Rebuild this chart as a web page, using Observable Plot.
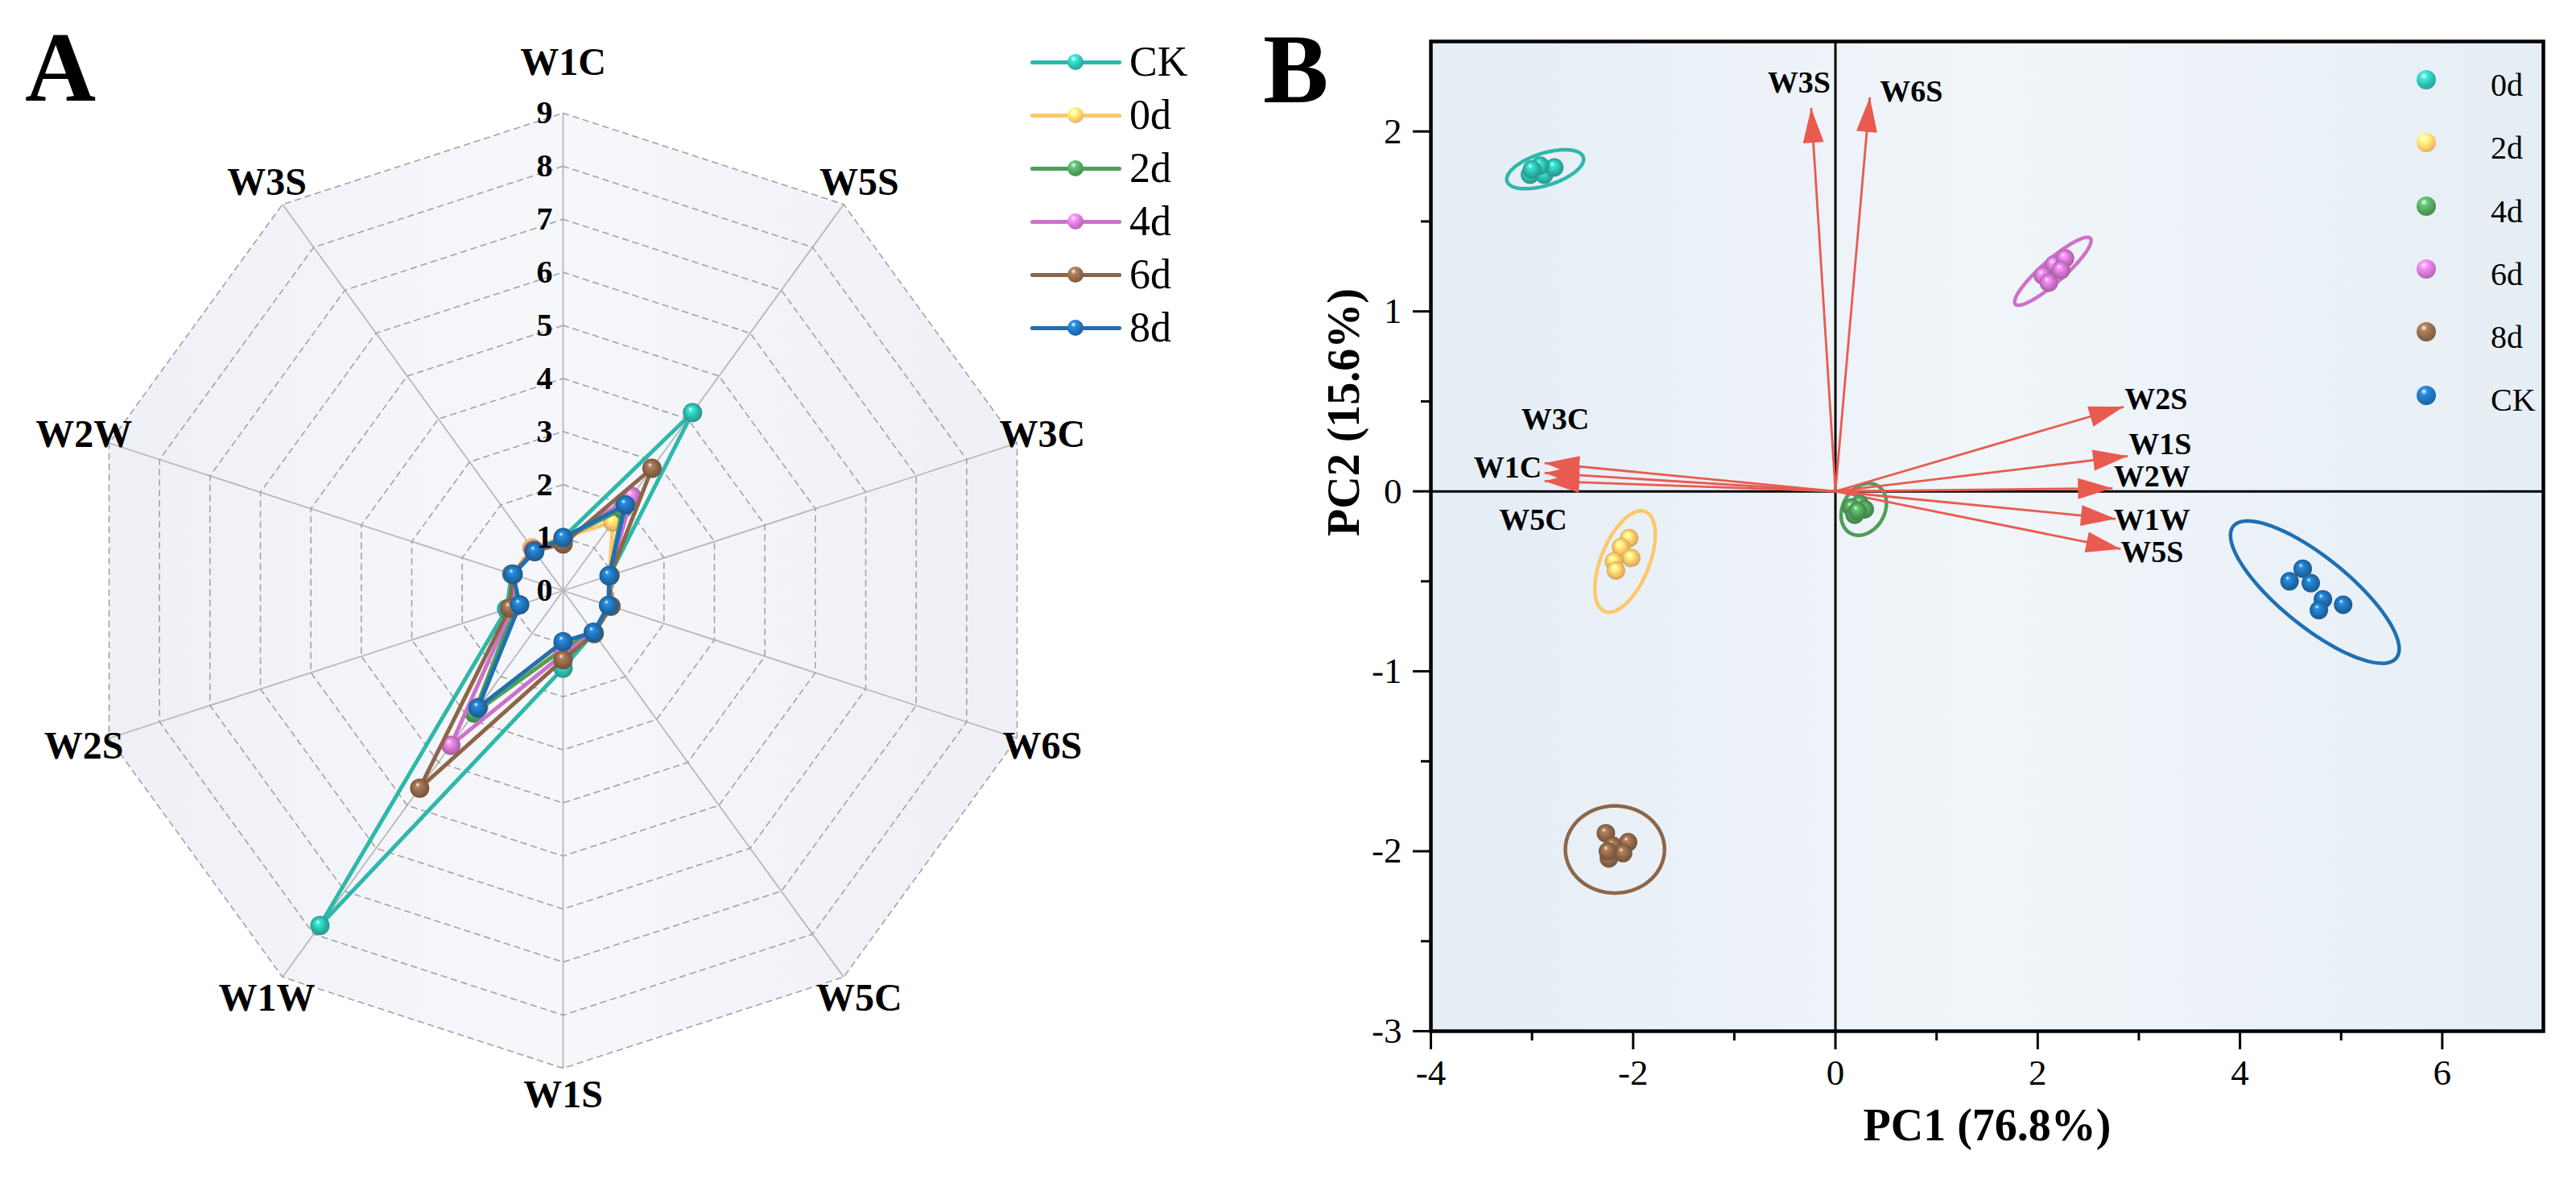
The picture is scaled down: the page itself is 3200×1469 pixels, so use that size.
<!DOCTYPE html>
<html>
<head>
<meta charset="utf-8">
<script src="https://cdn.jsdelivr.net/npm/d3@7"></script>
<script src="https://cdn.jsdelivr.net/npm/@observablehq/plot@0.6"></script>
<style>
  body { margin: 0; background: #fff; font-family: "Liberation Serif", "Times New Roman", serif; }
  #wrap { position: relative; width: 3200px; height: 1469px; overflow: hidden; background: #fff; }
  #panelA { position: absolute; left: 0; top: 0; }
  #panelB { position: absolute; left: 1580px; top: 0; }
  .letter { position: absolute; font-weight: bold; font-size: 122px; line-height: 1; color: #000; }
  .leg { position: absolute; line-height: 1; color: #000; white-space: nowrap; }
  .ball { position: absolute; border-radius: 50%; }
  .lline { position: absolute; height: 5px; border-radius: 2px; }
</style>
</head>
<body>
<div id="wrap">
  <div id="panelA"></div>
  <div id="panelB"></div>
</div>
<script>
// ---------------- DATA ----------------
// Panel A: radar (E-nose sensor responses)
const radarAxes = ["W1C", "W5S", "W3C", "W6S", "W5C", "W1S", "W1W", "W2S", "W2W", "W3S"];
const radarSeries = ["CK", "0d", "2d", "4d", "6d", "8d"];
const radarCK = [1.00, 4.15, 0.92, 0.93, 0.98, 1.46, 7.80, 1.12, 1.02, 0.96];
const radar0d = [1.00, 1.60, 0.92, 0.92, 0.97, 1.00, 2.70, 0.95, 1.00, 1.00];
const radar2d = [0.98, 1.90, 0.92, 0.92, 0.97, 1.10, 2.85, 0.95, 1.00, 0.95];
const radar4d = [0.95, 2.20, 0.92, 0.93, 0.98, 1.20, 3.60, 1.00, 1.00, 0.95];
const radar6d = [0.88, 2.85, 0.93, 0.95, 1.00, 1.30, 4.60, 1.06, 1.00, 0.93];
const radar8d = [1.00, 2.00, 0.91, 0.90, 0.97, 0.96, 2.73, 0.86, 0.99, 0.91];
const radarTicks = [0, 1, 2, 3, 4, 5, 6, 7, 8, 9];

// Panel B: PCA biplot
const pcaGroups = ["0d", "2d", "4d", "6d", "8d", "CK"];
const scores0d = [[-3.02, 1.76], [-2.88, 1.76], [-2.78, 1.80], [-2.92, 1.81], [-3.00, 1.79]];
const scores2d = [[-2.04, -0.26], [-2.12, -0.31], [-2.02, -0.37], [-2.19, -0.39], [-2.17, -0.44]];
const scores4d = [[0.24, -0.07], [0.16, -0.09], [0.29, -0.10], [0.19, -0.13], [0.22, -0.11]];
const scores6d = [[2.16, 1.26], [2.27, 1.295], [2.05, 1.20], [2.11, 1.16], [2.23, 1.23]];
const scores8d = [[-2.27, -1.90], [-2.05, -1.95], [-2.20, -1.97], [-2.24, -2.04], [-2.10, -2.01], [-2.25, -2.00]];
const scoresCK = [[4.49, -0.50], [4.62, -0.43], [4.70, -0.51], [4.82, -0.60], [4.78, -0.66], [5.02, -0.63]];
// confidence ellipses: centre and two half-axis vectors (data units)
const ellipseCenter = [[-2.87, 1.79], [-2.08, -0.39], [0.28, -0.10], [2.15, 1.223], [-2.18, -1.99], [4.74, -0.56]];
const ellipseAxisU  = [[0.377, 0.067], [0.202, 0.277], [0.135, 0.132], [0.371, 0.183], [0.49, 0], [0.806, -0.366]];
const ellipseAxisV  = [[0.048, -0.085], [0.220, -0.051], [0.179, -0.058], [0.073, -0.047], [0, 0.242], [0.214, 0.150]];
// loadings
const loadNames = ["W3S", "W6S", "W3C", "W1C", "W5C", "W2S", "W1S", "W2W", "W1W", "W5S"];
const loadPC1 = [-0.24, 0.34, -2.875, -2.875, -2.875, 2.85, 2.89, 2.74, 2.77, 2.82];
const loadPC2 = [2.13, 2.19, 0.157, 0.102, 0.057, 0.47, 0.196, 0.017, -0.153, -0.32];
const loadLabelX = [-0.36, 0.75, -2.77, -3.24, -2.99, 3.17, 3.21, 3.13, 3.13, 3.13];
const loadLabelY = [2.27, 2.22, 0.40, 0.13, -0.16, 0.51, 0.26, 0.08, -0.16, -0.34];
const xTicksMajor = [-4, -2, 0, 2, 4, 6];
const xTicksMinor = [-3, -1, 1, 3, 5];
const yTicksMajor = [-3, -2, -1, 0, 1, 2];
const yTicksMinor = [-2.5, -1.5, -0.5, 0.5, 1.5];
const pc1Title = "PC1 (76.8%)";
const pc2Title = "PC2 (15.6%)";

// ---------------- STYLES ----------------
const radarColors = ["#2db8aa", "#fcc86a", "#4f9d5a", "#cc73c9", "#8d6547", "#1f6fb2"];
const pcaColors   = ["#2db8aa", "#fcc86a", "#4f9d5a", "#cc73c9", "#8d6547", "#1f6fb2"];
const arrowColor = "#e95a4f";
const serif = "'Liberation Serif', 'Times New Roman', serif";

// ---------------- GRADIENT DEFS ----------------
const defsSvg = d3.select("body").append("svg")
  .attr("width", 0).attr("height", 0)
  .style("position", "absolute").style("left", "0").style("top", "0");
const defs = defsSvg.append("defs");
function addBall(id, c) {
  const base = d3.color(c);
  const g = defs.append("radialGradient").attr("id", id)
    .attr("cx", "0.5").attr("cy", "0.5").attr("r", "0.55").attr("fx", "0.38").attr("fy", "0.3");
  g.append("stop").attr("offset", "0").attr("stop-color", "#ffffff");
  g.append("stop").attr("offset", "0.2").attr("stop-color", base.brighter(0.7).formatHex());
  g.append("stop").attr("offset", "0.6").attr("stop-color", c);
  g.append("stop").attr("offset", "1").attr("stop-color", base.darker(0.7).formatHex());
}
radarColors.forEach((c, i) => addBall("ballA" + i, c));
pcaColors.forEach((c, i) => addBall("ballB" + i, c));
{
  const g = defs.append("linearGradient").attr("id", "radarBg").attr("x1", "0").attr("x2", "1").attr("y1", "0").attr("y2", "0");
  [["0", "#eef0f6"], ["0.3", "#f4f5fa"], ["0.5", "#f6f7fb"], ["0.7", "#f3f4f9"], ["1", "#eef0f6"]]
    .forEach(([o, c]) => g.append("stop").attr("offset", o).attr("stop-color", c));
  const h = defs.append("linearGradient").attr("id", "bgB").attr("x1", "0").attr("x2", "1").attr("y1", "0").attr("y2", "0");
  [["0", "#e5edf5"], ["0.5", "#f0f5f9"], ["1", "#e6eef5"]]
    .forEach(([o, c]) => h.append("stop").attr("offset", o).attr("stop-color", c));
}

// ---------------- PANEL A (radar) ----------------
const radarValues = [radarCK, radar0d, radar2d, radar4d, radar6d, radar8d];
const rMax = d3.max(radarTicks);
const angleOf = i => i * 2 * Math.PI / radarAxes.length;
const px = (v, i) => v * Math.sin(angleOf(i));
const py = (v, i) => v * Math.cos(angleOf(i));

const outer = radarAxes.map((a, i) => ({x: px(rMax, i), y: py(rMax, i)}));
const rings = radarTicks.filter(k => k > 0).flatMap(k => radarAxes.map((a, i) => ({k, x: px(k, i), y: py(k, i)})));

const marksA = [
  Plot.line(outer, {x: "x", y: "y", fill: "url(#radarBg)", stroke: null, curve: "linear-closed"}),
  Plot.link(radarAxes, {x1: 0, y1: 0, x2: (d, i) => px(rMax, i), y2: (d, i) => py(rMax, i), stroke: "#b8b8b8", strokeWidth: 1.8}),
  Plot.line(rings, {x: "x", y: "y", z: "k", stroke: "#a3a3a3", strokeWidth: 1.6, strokeDasharray: "7 6", curve: "linear-closed"})
];
radarSeries.forEach((s, si) => {
  const rows = radarAxes.map((a, i) => ({axis: a, x: px(radarValues[si][i], i), y: py(radarValues[si][i], i)}));
  marksA.push(Plot.line(rows, {x: "x", y: "y", stroke: radarColors[si], strokeWidth: 5, curve: "linear-closed"}));
  marksA.push(Plot.dot(rows, {x: "x", y: "y", r: 12, fill: `url(#ballA${si})`, stroke: null}));
});
marksA.push(Plot.text(radarTicks, {x: 0, y: d => d, text: d => String(d), dx: -13, textAnchor: "end",
  fontSize: 40, fontWeight: "bold", fontFamily: serif, fill: "#000"}));
marksA.push(Plot.text(radarAxes, {
  x: (d, i) => px(i === 0 ? rMax + 0.95 : rMax + 0.5, i),
  y: (d, i) => py(i === 0 ? rMax + 0.95 : rMax + 0.5, i),
  text: d => d, fontSize: 48, fontWeight: "bold", fontFamily: serif, fill: "#000"}));

const plotA = Plot.plot({
  width: 1580, height: 1469,
  x: {domain: [-rMax, rMax], range: [106, 1292], axis: null},
  y: {domain: [-rMax, rMax], range: [1326, 140], axis: null},
  style: {background: "none", fontFamily: serif, overflow: "visible"},
  marks: marksA
});
document.getElementById("panelA").appendChild(plotA);

// ---------------- PANEL B (PCA biplot) ----------------
const W_B = 1620, H_B = 1469, mL = 197, mR = 41, mT = 51, mB = 189;
const sx = Plot.scale({x: {domain: [-4, 7], range: [mL, W_B - mR]}});
const sy = Plot.scale({y: {domain: [-3, 2.5], range: [H_B - mB, mT]}});
const kx = sx.apply(1) - sx.apply(0);
const ky = sy.apply(0) - sy.apply(1);

const scoresAll = [scores0d, scores2d, scores4d, scores6d, scores8d, scoresCK];
const marksB = [
  Plot.frame({fill: "url(#bgB)", stroke: null}),
  Plot.ruleX([0], {stroke: "#000", strokeWidth: 3}),
  Plot.ruleY([0], {stroke: "#000", strokeWidth: 3})
];
// ellipses
pcaGroups.forEach((g, gi) => {
  const [cx, cy] = ellipseCenter[gi], [ux, uy] = ellipseAxisU[gi], [vx, vy] = ellipseAxisV[gi];
  const pts = d3.range(0, 121).map(j => {
    const t = j / 120 * 2 * Math.PI;
    return {x: cx + Math.cos(t) * ux + Math.sin(t) * vx, y: cy + Math.cos(t) * uy + Math.sin(t) * vy};
  });
  marksB.push(Plot.line(pts, {x: "x", y: "y", stroke: pcaColors[gi], strokeWidth: 4.5}));
});
// loading arrows
const loadings = loadNames.map((n, i) => ({name: n, pc1: loadPC1[i], pc2: loadPC2[i], lx: loadLabelX[i], ly: loadLabelY[i]}));
marksB.push(Plot.link(loadings, {x1: 0, y1: 0, x2: "pc1", y2: "pc2", stroke: arrowColor, strokeWidth: 2.8}));
function headSymbol(theta) {
  return {
    draw(ctx) {
      const L = 43, W = 13;
      const p = [[0, 0], [-W, L], [W, L]].map(([x, y]) => [x * Math.cos(theta) - y * Math.sin(theta), x * Math.sin(theta) + y * Math.cos(theta)]);
      ctx.moveTo(p[0][0], p[0][1]);
      ctx.lineTo(p[1][0], p[1][1]);
      ctx.lineTo(p[2][0], p[2][1]);
      ctx.closePath();
    }
  };
}
loadings.forEach(d => {
  const th = Math.atan2(d.pc1 * kx, d.pc2 * ky);
  marksB.push(Plot.dot([d], {x: "pc1", y: "pc2", r: 10, symbol: headSymbol(th), fill: arrowColor, stroke: null}));
});
marksB.push(Plot.text(loadings, {x: "lx", y: "ly", text: "name", fontSize: 38, fontWeight: "bold", fontFamily: serif, fill: "#000"}));
// score points
pcaGroups.forEach((g, gi) => {
  marksB.push(Plot.dot(scoresAll[gi], {x: d => d[0], y: d => d[1], r: 11.5, fill: `url(#ballB${gi})`, stroke: null}));
});
marksB.push(
  Plot.frame({stroke: "#000", strokeWidth: 4.5}),
  Plot.axisX({ticks: xTicksMajor, tickSize: 23, tickPadding: 12, tickFormat: d => String(d), fontSize: 45, fontFamily: serif, strokeWidth: 3, stroke: "#000", fill: "#000", label: null}),
  Plot.axisX({ticks: xTicksMinor, tickSize: 12, tickFormat: () => "", strokeWidth: 3, stroke: "#000", label: null}),
  Plot.axisY({ticks: yTicksMajor, tickSize: 22, tickPadding: 14, tickFormat: d => String(d), fontSize: 45, fontFamily: serif, strokeWidth: 3, stroke: "#000", fill: "#000", label: null}),
  Plot.axisY({ticks: yTicksMinor, tickSize: 12, tickFormat: () => "", strokeWidth: 3, stroke: "#000", label: null}),
  Plot.text([pc1Title], {text: d => d, frameAnchor: "bottom", dy: 135, fontSize: 56, fontWeight: "bold", fontFamily: serif, fill: "#000"}),
  Plot.text([pc2Title], {text: d => d, frameAnchor: "left", dx: -107, rotate: -90, fontSize: 56, fontWeight: "bold", fontFamily: serif, fill: "#000"})
);

const plotB = Plot.plot({
  width: W_B, height: H_B,
  marginLeft: mL, marginRight: mR, marginTop: mT, marginBottom: mB,
  x: {domain: [-4, 7]},
  y: {domain: [-3, 2.5]},
  style: {background: "none", fontFamily: serif, overflow: "visible"},
  marks: marksB
});
document.getElementById("panelB").appendChild(plotB);

// ---------------- LETTERS & LEGENDS ----------------
const wrap = document.getElementById("wrap");
function addDiv(cls, css, text) {
  const el = document.createElement("div");
  el.className = cls;
  Object.assign(el.style, css);
  if (text != null) el.textContent = text;
  wrap.appendChild(el);
  return el;
}
addDiv("letter", {left: "31px", top: "23px"}, "A");
addDiv("letter", {left: "1569px", top: "25px"}, "B");

function ballCss(c) {
  const b = d3.color(c);
  return `radial-gradient(circle at 38% 30%, #ffffff 0%, ${b.brighter(0.7).formatHex()} 18%, ${c} 55%, ${b.darker(0.7).formatHex()} 100%)`;
}
// legend A
radarSeries.forEach((s, i) => {
  const base = 95 + 66 * i;      // text baseline
  const cy = base - 18;          // line / ball centre
  addDiv("lline", {left: "1280px", top: (cy - 2.5) + "px", width: "113px", background: radarColors[i]});
  addDiv("ball", {left: (1336 - 10) + "px", top: (cy - 10) + "px", width: "20px", height: "20px", background: ballCss(radarColors[i])});
  addDiv("leg", {left: "1403px", top: (base - 0.8375 * 52) + "px", fontSize: "52px"}, s);
});
// legend B
pcaGroups.forEach((g, i) => {
  const cy = 99 + 78.3 * i;
  const base = 119.4 + 78.3 * i;
  addDiv("ball", {left: (3014 - 12) + "px", top: (cy - 12) + "px", width: "24px", height: "24px", background: ballCss(pcaColors[i])});
  addDiv("leg", {left: "3094px", top: (base - 0.8375 * 40) + "px", fontSize: "40px"}, g);
});
</script>
</body>
</html>
